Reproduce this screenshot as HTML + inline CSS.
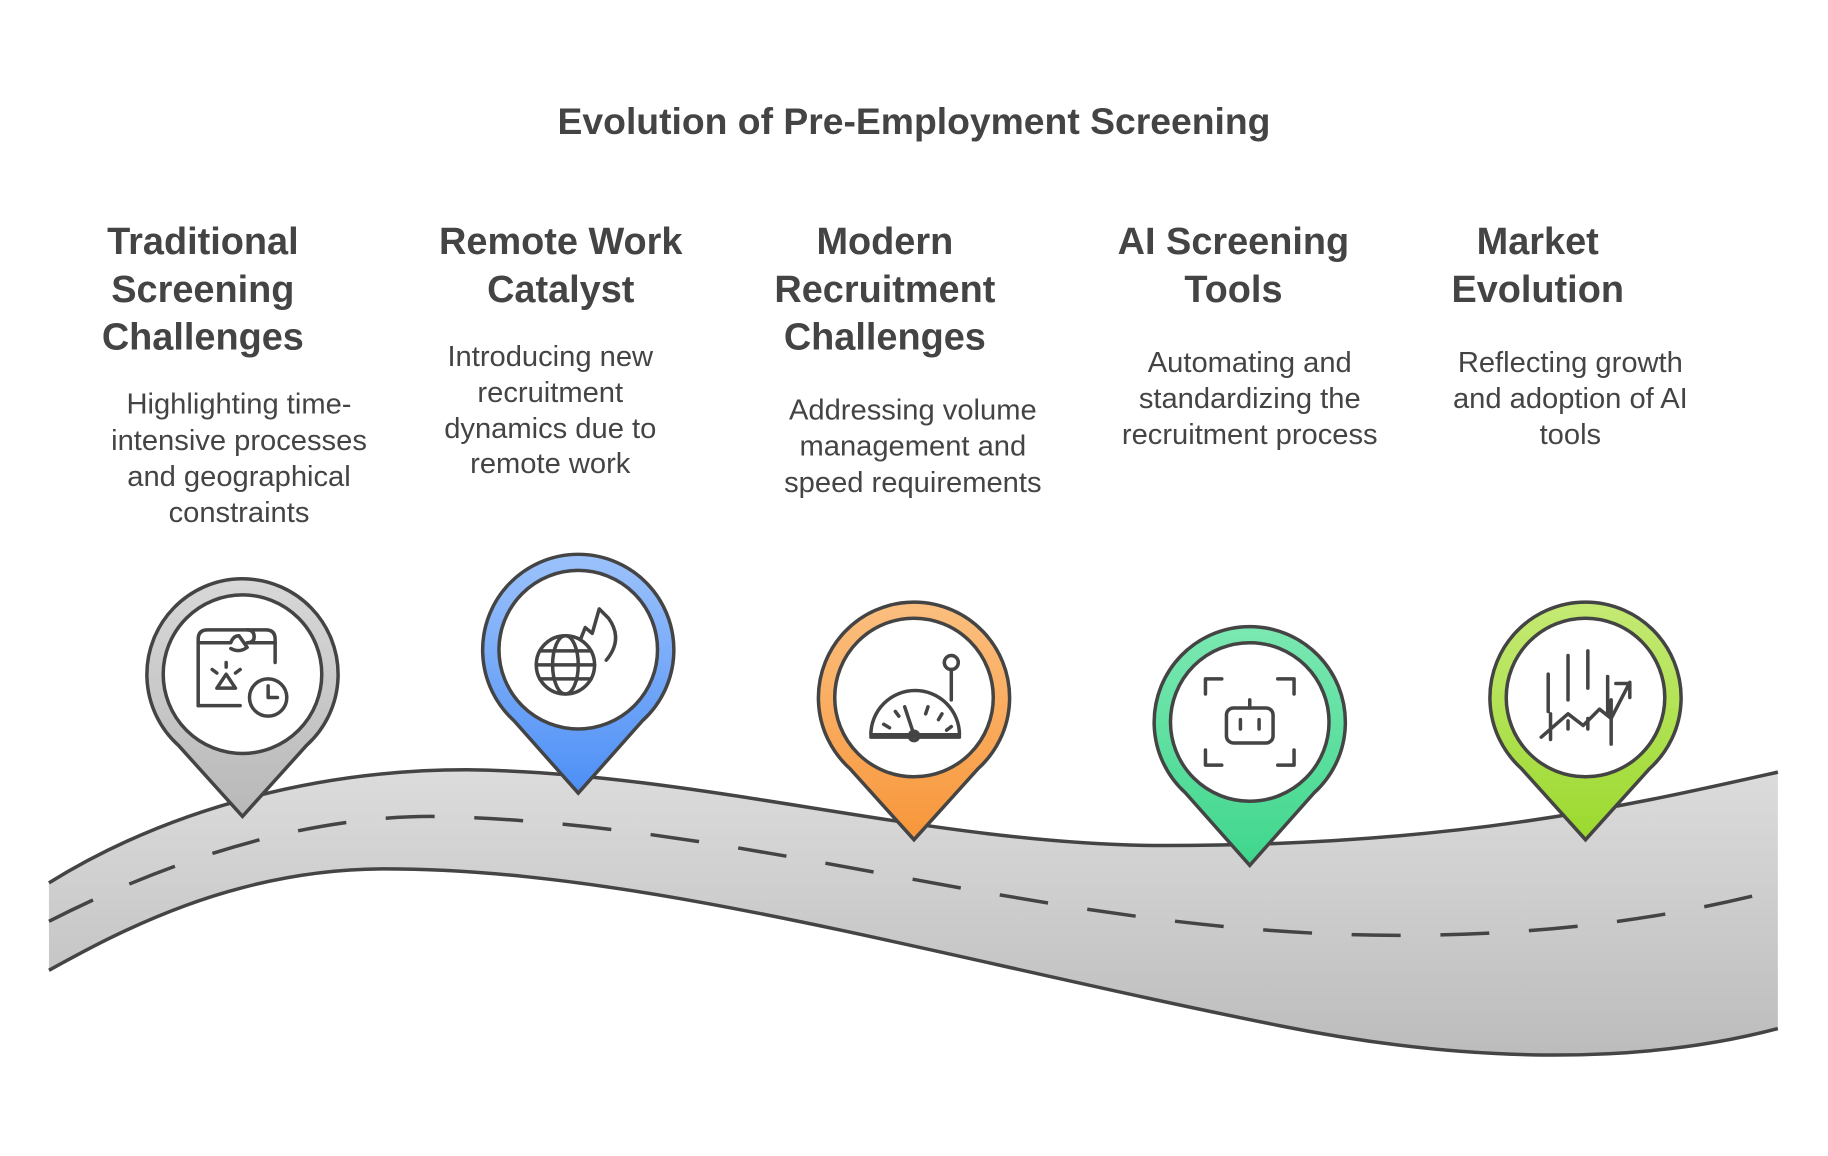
<!DOCTYPE html>
<html><head><meta charset="utf-8"><style>
html,body{margin:0;padding:0;background:#fff;}
svg{display:block}
.t{font-family:"Liberation Sans",sans-serif;font-weight:bold;font-size:32.5px;fill:#444;text-anchor:middle;dominant-baseline:middle}
.h{font-family:"Liberation Sans",sans-serif;font-weight:bold;font-size:32px;fill:#444;text-anchor:middle;dominant-baseline:middle}
.d{font-family:"Liberation Sans",sans-serif;font-size:25px;fill:#444;text-anchor:middle;dominant-baseline:middle}
.ic{fill:none;stroke:#444;stroke-width:3;stroke-linecap:round;stroke-linejoin:round}
</style></head><body>
<svg width="1828" height="1156" viewBox="0 0 1568 991" xmlns="http://www.w3.org/2000/svg">
<defs>
<linearGradient id="road" x1="0" y1="0" x2="0" y2="1"><stop offset="0" stop-color="#dcdcdc"/><stop offset="1" stop-color="#bcbcbc"/></linearGradient>
<linearGradient id="g1" x1="0" y1="0" x2="0" y2="1"><stop offset="0" stop-color="#d8d8d8"/><stop offset="1" stop-color="#b8b8b8"/></linearGradient>
<linearGradient id="g2" x1="0" y1="0" x2="0" y2="1"><stop offset="0" stop-color="#9cc2fb"/><stop offset="1" stop-color="#4d8ff6"/></linearGradient>
<linearGradient id="g3" x1="0" y1="0" x2="0" y2="1"><stop offset="0" stop-color="#fbbf7f"/><stop offset="1" stop-color="#f8963a"/></linearGradient>
<linearGradient id="g4" x1="0" y1="0" x2="0" y2="1"><stop offset="0" stop-color="#7be8b2"/><stop offset="1" stop-color="#3fd68c"/></linearGradient>
<linearGradient id="g5" x1="0" y1="0" x2="0" y2="1"><stop offset="0" stop-color="#c5ea74"/><stop offset="1" stop-color="#9bd92e"/></linearGradient>
</defs>
<text class="h" x="784" y="106">Evolution of Pre-Employment Screening</text>

<path d="M42 757 C150 690 280 660 400 660 C600 662 800 725 1000 725 C1250 725 1400 690 1525 662 L1525 882 C1400 915 1250 910 1100 880 C800 820 550 745 330 745 C200 745 100 800 42 832 Z" fill="url(#road)" stroke="none"/>
<path d="M42 757 C150 690 280 660 400 660 C600 662 800 725 1000 725 C1250 725 1400 690 1525 662" fill="none" stroke="#444" stroke-width="3"/>
<path d="M42 832 C100 800 200 745 330 745 C550 745 800 820 1100 880 C1250 910 1400 915 1525 882" fill="none" stroke="#444" stroke-width="3"/>
<path d="M42 790 C130 745 250 700 370 700 C650 705 900 802 1200 802 C1350 802 1450 782 1525 763" fill="none" stroke="#444" stroke-width="3" stroke-dasharray="42 34"/>

<g stroke="#444" stroke-width="3">
<path d="M153 639 A82 82 0 1 1 263 639 L208 700 Z" fill="url(#g1)"/>
<circle cx="208" cy="578" r="68" fill="#fff"/>
<path d="M441 618 A82 82 0 1 1 551 618 L496 680 Z" fill="url(#g2)"/>
<circle cx="496" cy="557" r="68" fill="#fff"/>
<path d="M729 659 A82 82 0 1 1 839 659 L784 720 Z" fill="url(#g3)"/>
<circle cx="784" cy="598" r="68" fill="#fff"/>
<path d="M1017 680 A82 82 0 1 1 1127 680 L1072 742 Z" fill="url(#g4)"/>
<circle cx="1072" cy="619" r="68" fill="#fff"/>
<path d="M1305 659 A82 82 0 1 1 1415 659 L1360 720 Z" fill="url(#g5)"/>
<circle cx="1360" cy="598" r="68" fill="#fff"/>
</g>

<g class="ic">
<path d="M170 605 V548 Q170 540 178 540 H228 Q236 540 236 548 V568"/>
<path d="M170 551 H198 Q200 545 205 545 L212 555 Q205 560 198 556 M212 551 H236 M212 540 Q218 540 218 546 Q218 551 212 551"/>
<path d="M186 590 L194 578 L202 590 Z M182 574 L186 577 M206 574 L202 577 M194 568 V572"/>
<path d="M170 605 H206"/>
<circle cx="230" cy="598" r="16"/><path d="M230 588 V598 H238"/>
<circle cx="485" cy="570" r="25"/><ellipse cx="485" cy="570" rx="11" ry="25"/><path d="M460 570 H510 M463 558 H507 M463 582 H507"/>
<path d="M498 548 L502 538 L508 543 L514 522 L522 530 Q535 548 520 566"/>
<path d="M747 630 A38 38 0 0 1 823 630 Z" fill="none"/>
<path d="M747 632 H823 M776 606 L784 630 M758 621 L763 624 M768 610 L771 614 M796 606 L794 612 M808 612 L805 617 M816 623 L812 626 M816 574 V600"/>
<circle cx="784" cy="631" r="4"/><circle cx="816" cy="568" r="6"/>
<path d="M1034 595 V582 H1048 M1096 582 H1110 V595 M1034 643 V656 H1048 M1110 643 V656 H1096"/>
<rect x="1052" y="607" width="40" height="30" rx="6"/><path d="M1072 600 V607 M1064 617 V625 M1080 617 V625"/>
<path d="M1328 610 V578 M1345 600 V562 M1362 590 V558 M1379 612 V580 M1330 612 V634 M1345 618 V625 M1362 616 V625 M1382 600 V638"/>
<path d="M1322 632 L1345 612 L1358 622 L1372 608 L1382 616 L1398 585 M1386 586 H1398 V598"/>
</g>

<text class="t" x="174" y="209">Traditional</text><text class="t" x="174" y="250">Screening</text><text class="t" x="174" y="291">Challenges</text>
<text class="d" x="205" y="348">Highlighting time-</text><text class="d" x="205" y="379">intensive processes</text><text class="d" x="205" y="410">and geographical</text><text class="d" x="205" y="441">constraints</text>

<text class="t" x="481" y="209">Remote Work</text><text class="t" x="481" y="250">Catalyst</text>
<text class="d" x="472" y="307">Introducing new</text><text class="d" x="472" y="338">recruitment</text><text class="d" x="472" y="369">dynamics due to</text><text class="d" x="472" y="399">remote work</text>

<text class="t" x="759" y="209">Modern</text><text class="t" x="759" y="250">Recruitment</text><text class="t" x="759" y="291">Challenges</text>
<text class="d" x="783" y="353">Addressing volume</text><text class="d" x="783" y="384">management and</text><text class="d" x="783" y="415">speed requirements</text>

<text class="t" x="1058" y="209">AI Screening</text><text class="t" x="1058" y="250">Tools</text>
<text class="d" x="1072" y="312">Automating and</text><text class="d" x="1072" y="343">standardizing the</text><text class="d" x="1072" y="374">recruitment process</text>

<text class="t" x="1319" y="209">Market</text><text class="t" x="1319" y="250">Evolution</text>
<text class="d" x="1347" y="312">Reflecting growth</text><text class="d" x="1347" y="343">and adoption of AI</text><text class="d" x="1347" y="374">tools</text>
</svg>
</body></html>
